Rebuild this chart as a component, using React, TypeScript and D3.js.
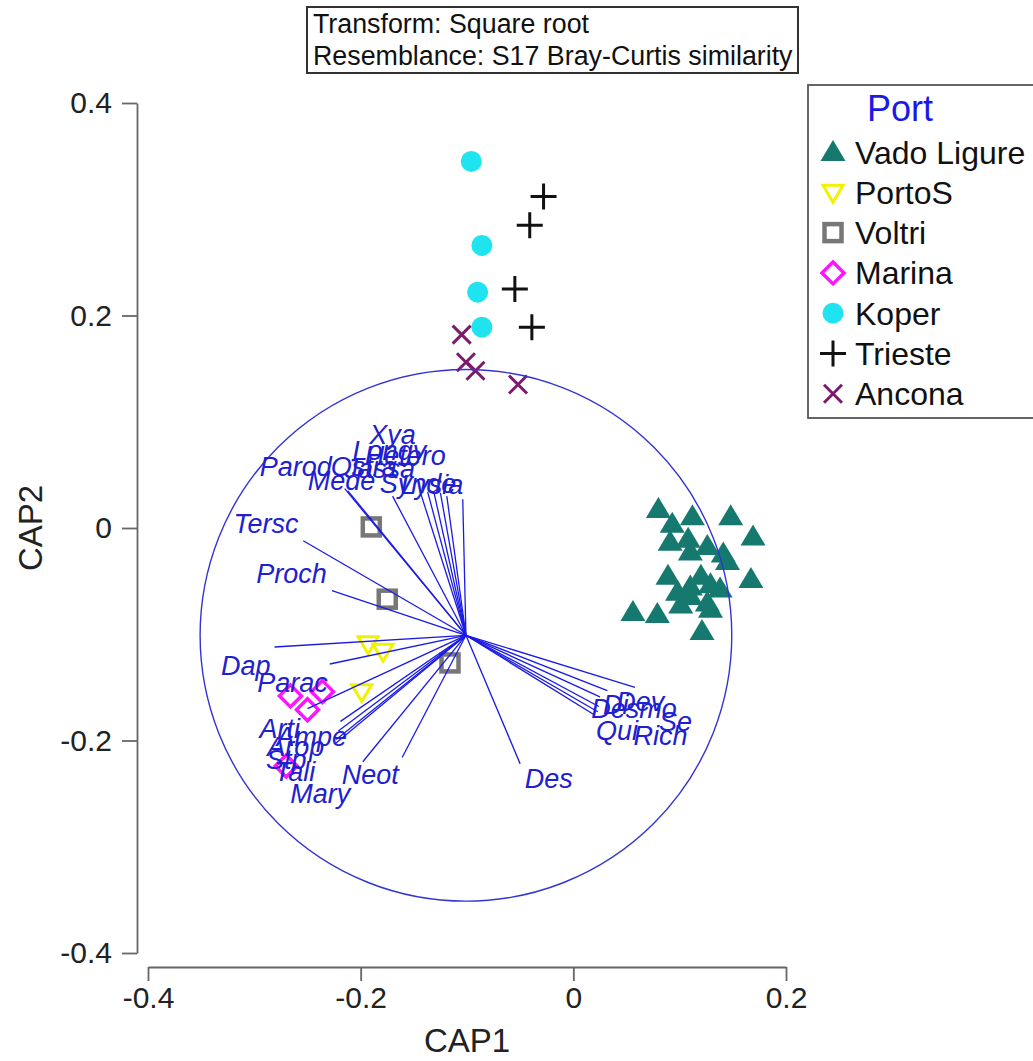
import React, { useEffect, useRef } from 'react';
import * as d3 from 'd3';

// sample scores (CAP1, CAP2)
const vadoLigure = [
  [0.080, 0.018], [0.112, 0.011], [0.148, 0.011], [0.093, 0.004], [0.169, -0.008],
  [0.091, -0.013], [0.108, -0.010], [0.126, -0.017], [0.110, -0.022], [0.141, -0.024],
  [0.145, -0.031], [0.089, -0.045], [0.120, -0.045], [0.167, -0.048], [0.110, -0.055],
  [0.129, -0.053], [0.138, -0.057], [0.098, -0.060], [0.056, -0.079], [0.079, -0.081],
  [0.101, -0.072], [0.126, -0.070], [0.129, -0.076], [0.121, -0.097], [0.110, -0.064],
];
const portoS = [[-0.193, -0.109], [-0.179, -0.116], [-0.199, -0.154]];
const voltri = [[-0.190, 0.001], [-0.175, -0.067], [-0.116, -0.127]];
const marina = [[-0.266, -0.158], [-0.236, -0.154], [-0.250, -0.171], [-0.270, -0.224]];
const koper = [[-0.096, 0.345], [-0.086, 0.266], [-0.090, 0.222], [-0.086, 0.189]];
const trieste = [[-0.028, 0.312], [-0.041, 0.285], [-0.055, 0.225], [-0.039, 0.189]];
const ancona = [[-0.105, 0.182], [-0.101, 0.156], [-0.092, 0.148], [-0.052, 0.135]];

const ports = ['Vado Ligure', 'PortoS', 'Voltri', 'Marina', 'Koper', 'Trieste', 'Ancona'];
const portPoints = [vadoLigure, portoS, voltri, marina, koper, trieste, ancona];

// species vectors: end point and label point in CAP units
const vectorNames = ['Tersc', 'Proch', 'Dap', 'Parac', 'Arti', 'Ampe', 'Arop', 'Stp', 'Tali', 'Mary', 'Neot', 'Des',
  'Parod', 'Mede', 'Ostra', 'Jassa', 'Longy', 'Xya', 'Hetero', 'Synde', 'Lysia',
  'Di', 'Dev', 'Desmo', 'Se', 'Qui', 'Rich'];
const vectorX = [-0.254, -0.227, -0.281, -0.229, -0.250, -0.219, -0.221, -0.223, -0.224, -0.198, -0.161, -0.050,
  -0.215, -0.212, -0.170, -0.144, -0.137, -0.131, -0.125, -0.119, -0.104,
  0.058, 0.032, 0.025, 0.024, 0.023, 0.020];
const vectorY = [-0.012, -0.059, -0.112, -0.128, -0.170, -0.182, -0.191, -0.199, -0.203, -0.220, -0.216, -0.222,
  0.037, 0.035, 0.030, 0.034, 0.034, 0.033, 0.033, 0.030, 0.027,
  -0.150, -0.153, -0.159, -0.168, -0.173, -0.176];
const labelX = [-0.289, -0.265, -0.308, -0.264, -0.276, -0.246, -0.261, -0.270, -0.262, -0.238, -0.191, -0.023,
  -0.261, -0.218, -0.197, -0.182, -0.173, -0.170, -0.158, -0.146, -0.133,
  0.040, 0.063, 0.057, 0.096, 0.041, 0.082];
const labelY = [0.004, -0.043, -0.129, -0.145, -0.189, -0.196, -0.206, -0.218, -0.229, -0.250, -0.232, -0.236,
  0.058, 0.045, 0.058, 0.056, 0.073, 0.088, 0.068, 0.042, 0.041,
  -0.166, -0.163, -0.170, -0.182, -0.191, -0.195];

const vectorOrigin = [-0.101, -0.101];
const circleRadius = 0.25;

const xTicks = [-0.4, -0.2, 0, 0.2];
const yTicks = [-0.4, -0.2, 0, 0.2, 0.4];
const titleLines = ['Transform: Square root', 'Resemblance: S17 Bray-Curtis similarity'];

const FONT = '"Liberation Sans", Arial, sans-serif';

const drawMarker = (g, port, cx, cy) => {
  switch (port) {
    case 'Vado Ligure':
      g.append('path').attr('d', `M${cx},${cy - 12}L${cx + 12.5},${cy + 9}L${cx - 12.5},${cy + 9}Z`)
        .attr('fill', '#16796f');
      break;
    case 'PortoS':
      g.append('path').attr('d', `M${cx - 10},${cy - 7}L${cx + 10},${cy - 7}L${cx},${cy + 10}Z`)
        .attr('fill', 'none').attr('stroke', '#f2f200').attr('stroke-width', 3);
      break;
    case 'Voltri':
      g.append('rect').attr('x', cx - 8.5).attr('y', cy - 8.5).attr('width', 17).attr('height', 17)
        .attr('fill', 'none').attr('stroke', '#777').attr('stroke-width', 4.5);
      break;
    case 'Marina':
      g.append('path').attr('d', `M${cx},${cy - 11}L${cx + 11},${cy}L${cx},${cy + 11}L${cx - 11},${cy}Z`)
        .attr('fill', 'none').attr('stroke', '#ff14ff').attr('stroke-width', 3.5);
      break;
    case 'Koper':
      g.append('circle').attr('cx', cx).attr('cy', cy).attr('r', 10.5).attr('fill', '#1fe3ee');
      break;
    case 'Trieste':
      g.append('path').attr('d', `M${cx - 13},${cy}H${cx + 13}M${cx},${cy - 13}V${cy + 13}`)
        .attr('stroke', '#111').attr('stroke-width', 3);
      break;
    case 'Ancona':
      g.append('path').attr('d', `M${cx - 9},${cy - 9}L${cx + 9},${cy + 9}M${cx + 9},${cy - 9}L${cx - 9},${cy + 9}`)
        .attr('stroke', '#7d1a6c').attr('stroke-width', 3);
      break;
    default:
      break;
  }
};

const CapPlot = () => {
  const chartRef = useRef(null);

  useEffect(() => {
    if (!chartRef.current) return;
    d3.select(chartRef.current).selectAll('*').remove();

    const width = 1033;
    const height = 1061;

    const svg = d3.select(chartRef.current)
      .append('svg')
      .attr('width', width)
      .attr('height', height)
      .style('display', 'block')
      .style('background', '#fff');

    const x = d3.scaleLinear().domain([-0.4, 0.2]).range([148, 786]);
    const y = d3.scaleLinear().domain([-0.4, 0.4]).range([953, 103]);
    // plain hyphen for negatives, like the original
    const tickFmt = d => (d === 0 ? '0' : d.toFixed(1));

    // y axis
    const yAxis = svg.append('g')
      .attr('transform', 'translate(137,0)')
      .call(d3.axisLeft(y).tickValues(yTicks).tickSize(15).tickSizeOuter(0).tickPadding(10).tickFormat(tickFmt));
    yAxis.selectAll('path, line').attr('stroke', '#666').attr('stroke-width', 1.8);
    yAxis.selectAll('text').attr('fill', '#222').style('font-family', FONT).style('font-size', '30px');

    // x axis
    const xAxis = svg.append('g')
      .attr('transform', 'translate(0,967)')
      .call(d3.axisBottom(x).tickValues(xTicks).tickSize(14).tickSizeOuter(0).tickPadding(6).tickFormat(tickFmt));
    xAxis.selectAll('path, line').attr('stroke', '#666').attr('stroke-width', 1.8);
    xAxis.selectAll('text').attr('fill', '#222').style('font-family', FONT).style('font-size', '30px');

    svg.append('text')
      .attr('x', x(-0.1)).attr('y', 1052)
      .attr('text-anchor', 'middle')
      .style('font-family', FONT).style('font-size', '33px').attr('fill', '#222')
      .text('CAP1');

    svg.append('text')
      .attr('transform', `translate(42,${y(0)}) rotate(-90)`)
      .attr('text-anchor', 'middle')
      .style('font-family', FONT).style('font-size', '33px').attr('fill', '#222')
      .text('CAP2');

    // sample points
    const pts = svg.append('g');
    ports.forEach((port, i) => {
      portPoints[i].forEach(([px, py]) => drawMarker(pts, port, x(px), y(py)));
    });

    // correlation circle and species vectors
    const [ox, oy] = vectorOrigin;
    svg.append('circle')
      .attr('cx', x(ox)).attr('cy', y(oy))
      .attr('r', x(circleRadius) - x(0))
      .attr('fill', 'none').attr('stroke', '#3434d4').attr('stroke-width', 1.4);

    const vg = svg.append('g');
    vectorNames.forEach((name, i) => {
      vg.append('line')
        .attr('x1', x(ox)).attr('y1', y(oy))
        .attr('x2', x(vectorX[i])).attr('y2', y(vectorY[i]))
        .attr('stroke', '#1a1ae6').attr('stroke-width', 1.3);
    });
    vectorNames.forEach((name, i) => {
      vg.append('text')
        .attr('x', x(labelX[i])).attr('y', y(labelY[i]))
        .attr('dy', '0.35em')
        .attr('text-anchor', 'middle')
        .style('font-family', FONT).style('font-size', '27px').style('font-style', 'italic')
        .attr('fill', '#2020d0')
        .text(name);
    });

    // title box
    svg.append('rect')
      .attr('x', 307).attr('y', 7).attr('width', 491).attr('height', 66)
      .attr('fill', '#fff').attr('stroke', '#333').attr('stroke-width', 2);
    titleLines.forEach((t, i) => {
      svg.append('text')
        .attr('x', 313).attr('y', 33 + i * 32)
        .style('font-family', FONT).style('font-size', '26.8px').attr('fill', '#111')
        .text(t);
    });

    // legend
    const lg = svg.append('g');
    lg.append('rect')
      .attr('x', 808).attr('y', 85).attr('width', 240).attr('height', 333)
      .attr('fill', '#fff').attr('stroke', '#555').attr('stroke-width', 1.8);
    lg.append('text')
      .attr('x', 900).attr('y', 121)
      .attr('text-anchor', 'middle')
      .style('font-family', FONT).style('font-size', '36px').attr('fill', '#1a1ae6')
      .text('Port');
    ports.forEach((port, i) => {
      const cy = 152 + i * 40.3;
      drawMarker(lg, port, 833, cy);
      lg.append('text')
        .attr('x', 855).attr('y', cy).attr('dy', '0.36em')
        .style('font-family', FONT).style('font-size', '32px').attr('fill', '#111')
        .text(port);
    });

    return () => {};
  }, []);

  return <div ref={chartRef} style={{ position: 'absolute', left: 0, top: 0 }}></div>;
};

export default function App() {
  return <CapPlot />;
}
